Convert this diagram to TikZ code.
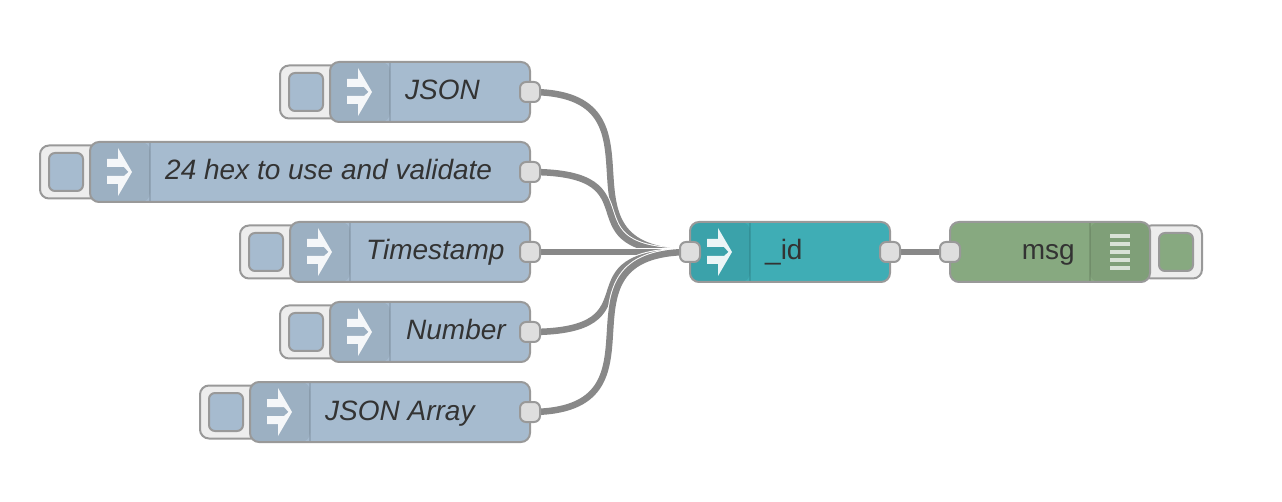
\documentclass[tikz,border=0pt]{standalone}
\usepackage{xcolor}
\usepackage{fontspec}
\setmainfont{Liberation Sans}
\usetikzlibrary{positioning, backgrounds}
\definecolor{injectblue}{HTML}{A6BBCF}
\definecolor{functeal}{HTML}{3FADB5}
\definecolor{debuggreen}{HTML}{87A980}
\definecolor{edgegrey}{HTML}{999999}
\definecolor{wiregrey}{HTML}{888888}
\definecolor{textgrey}{HTML}{333333}

\begin{document}
\begin{tikzpicture}[
    x=1pt, y=-1pt,
    body/.style={rectangle, draw=edgegrey, line width=2pt, rounded corners=9pt, minimum height=60pt, inner sep=0pt, outer sep=0pt},
    iconleft/.style={path picture={
        \fill[black, opacity=0.06] (path picture bounding box.north west) rectangle ++(60,60);
        \draw[black, opacity=0.11, line width=1.2pt] ([xshift=60pt]path picture bounding box.north west) -- ++(0,60);}},
    iconright/.style={path picture={
        \fill[black, opacity=0.06] (path picture bounding box.north east) rectangle ++(-60,60);
        \draw[black, opacity=0.11, line width=1.2pt] ([xshift=-60pt]path picture bounding box.north east) -- ++(0,60);}},
    inject/.style={body, fill=injectblue, iconleft},
    tab/.style={rectangle, draw=edgegrey, line width=2pt, rounded corners=9pt, fill=black!7, minimum width=60pt, minimum height=53pt, inner sep=0pt, outer sep=0pt},
    face/.style={rectangle, draw=edgegrey, line width=2pt, rounded corners=6pt, minimum width=34pt, minimum height=38pt, inner sep=0pt, outer sep=0pt},
    port/.style={rectangle, draw=edgegrey, line width=2pt, rounded corners=6pt, fill=black!13, minimum width=20pt, minimum height=20pt, inner sep=0pt, outer sep=0pt},
    lbl/.style={font=\fontsize{28}{34}\selectfont\itshape, text=textgrey, inner sep=0pt, anchor=base west},
    plainlbl/.style={font=\fontsize{28}{34}\selectfont, text=textgrey, inner sep=0pt},
    wire/.style={draw=wiregrey, line width=6.5pt, preaction={draw=white, line width=8.5pt}},
    pics/arrowicon/.style={code={
        \fill[white, opacity=0.9] (-13,-13) -- (-2,-13) -- (-2,-24) -- (12,0) -- (-2,24) -- (-2,12) -- (-13,12)
            -- (-13,4) -- (4,4) -- (8.5,0) -- (4,-5) -- (-13,-5) -- cycle;}},
    pics/listicon/.style={code={
        \foreach \dy in {-16,-8,0,8,16}
            \fill[white, opacity=0.7] (-10,\dy-2) rectangle (10,\dy+2);}}
]
    \useasboundingbox (0,0) rectangle (1282,502);

    % injects
    \node[inject, minimum width=200pt] (json) at (430,92) {};
    \node[inject, minimum width=440pt] (hex) at (310,172) {};
    \node[inject, minimum width=240pt] (timestamp) at (410,252) {};
    \node[inject, minimum width=200pt] (number) at (430,332) {};
    \node[inject, minimum width=280pt] (array) at (390,412) {};
    \node[body, fill=functeal, iconleft, minimum width=200pt] (idnode) at (790,252) {};
    \node[body, fill=debuggreen, iconright, minimum width=200pt] (msg) at (1050,252) {};

    % buttons
    \begin{scope}[on background layer]
    \node[tab, left=-10pt of json.west] (jsontab) {};
    \node[tab, left=-10pt of hex.west] (hextab) {};
    \node[tab, left=-10pt of timestamp.west] (timestamptab) {};
    \node[tab, left=-10pt of number.west] (numbertab) {};
    \node[tab, left=-10pt of array.west] (arraytab) {};
    \node[tab, right=-8pt of msg.east] (msgtab) {};
    \end{scope}
    \node[face, fill=injectblue, left=7pt of json.west] (jsonface) {};
    \node[face, fill=injectblue, left=7pt of hex.west] (hexface) {};
    \node[face, fill=injectblue, left=7pt of timestamp.west] (timestampface) {};
    \node[face, fill=injectblue, left=7pt of number.west] (numberface) {};
    \node[face, fill=injectblue, left=7pt of array.west] (arrayface) {};
    \node[face, fill=debuggreen, right=9pt of msg.east] (msgface) {};

    % icons
    \pic at ([xshift=30pt]json.west) {arrowicon};
    \pic at ([xshift=30pt]hex.west) {arrowicon};
    \pic at ([xshift=30pt]timestamp.west) {arrowicon};
    \pic at ([xshift=30pt]number.west) {arrowicon};
    \pic at ([xshift=30pt]array.west) {arrowicon};
    \pic at ([xshift=30pt]idnode.west) {arrowicon};
    \pic at ([xshift=-30pt]msg.east) {listicon};

    % labels
    \node[lbl] (jsonlbl) at (405,100) {JSON};
    \node[lbl] (hexlbl) at (165,180) {24 hex to use and validate};
    \node[lbl] (timestamplbl) at (366,260) {Timestamp};
    \node[lbl] (numberlbl) at (406,340) {Number};
    \node[lbl] (arraylbl) at (325,420) {JSON Array};
    \node[plainlbl, anchor=base west] (idlbl) at (765,260) {\_id};
    \node[plainlbl, anchor=base east] (msglbl) at (1075,260) {msg};

    % ports
    \node[port] (jsonout) at (json.east) {};
    \node[port] (hexout) at (hex.east) {};
    \node[port] (timestampout) at (timestamp.east) {};
    \node[port] (numberout) at (number.east) {};
    \node[port] (arrayout) at (array.east) {};
    \node[port] (idin) at (idnode.west) {};
    \node[port] (idout) at (idnode.east) {};
    \node[port] (msgin) at (msg.west) {};

    % wires
    \begin{scope}[on background layer]
    \draw[wire] (jsonout.center) .. controls +(150,0) and +(-150,0) .. (idin.center);
    \draw[wire] (hexout.center) .. controls +(134,0) and +(-134,0) .. (idin.center);
    \draw[wire] (timestampout.center) -- (idin.center);
    \draw[wire] (numberout.center) .. controls +(134,0) and +(-134,0) .. (idin.center);
    \draw[wire] (arrayout.center) .. controls +(150,0) and +(-150,0) .. (idin.center);
    \draw[wire] (idout.center) -- (msgin.center);
    \end{scope}
\end{tikzpicture}
\end{document}
